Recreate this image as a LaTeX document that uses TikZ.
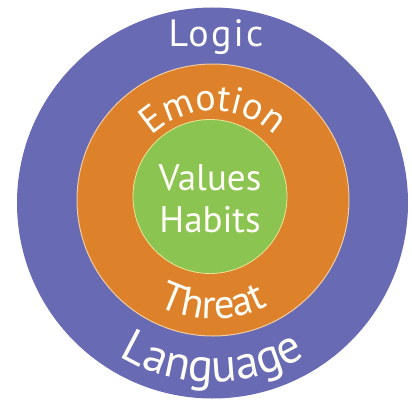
\documentclass[tikz,border=0pt]{standalone}
\usepackage{fontspec}
\setmainfont{PT Sans}
\usetikzlibrary{decorations.text,calc}
\definecolor{ringpurple}{RGB}{104,106,180}
\definecolor{ringorange}{RGB}{221,129,42}
\definecolor{ringgreen}{RGB}{139,196,80}
\definecolor{orangeedge}{RGB}{240,205,160}
\definecolor{greenedge}{RGB}{235,230,150}
\definecolor{textwhite}{RGB}{255,255,248}
\newcommand\fsEmo{\fontsize{38pt}{38pt}\selectfont}
\newcommand\fsThr{\fontsize{41pt}{41pt}\selectfont\addfontfeature{LetterSpace=10}}
\newcommand\fsLang{\fontsize{47pt}{47pt}\selectfont\addfontfeature{LetterSpace=12}}
\tikzset{
  ringlabel/.style={text=textwhite, inner sep=0pt, anchor=base},
  arctext/.style={decorate, decoration={text along path, text align=center, text color=textwhite, text={#1}}}
}
\begin{document}
\begin{tikzpicture}[x=1pt,y=1pt]
\useasboundingbox (0,0) rectangle (412,400);
\coordinate (pc) at (212.5,197);
\coordinate (oc) at (213,200);
\coordinate (gc) at (210,203.5);
\fill[ringpurple] (pc) circle[radius=195.5pt];
\filldraw[fill=ringorange, draw=orangeedge, line width=1pt] (oc) circle[radius=136pt];
\filldraw[fill=ringgreen, draw=greenedge, line width=0.8pt] (gc) circle[radius=77pt];
% inner words
\node[ringlabel, font=\fontsize{37pt}{37pt}\selectfont] (values) at (210,210) {Values};
\node[ringlabel, font=\fontsize{37pt}{37pt}\selectfont] (habits) at (210,168) {Habits};
% top word of outer ring
\node[ringlabel, font=\fontsize{38pt}{38pt}\selectfont\addfontfeature{LetterSpace=6}] (logic) at (216,353) {Logic};
% curved words
\path[arctext={|\fsEmo|Emotion}] ($(oc)+(170:89pt)$) arc[start angle=170, end angle=10, radius=89pt];
\path[arctext={|\fsThr|Threat}] ($(oc)+(190:119pt)$) arc[start angle=190, end angle=350, radius=119pt];
\path[arctext={|\fsLang|Language}] ($(pc)+(185:179pt)$) arc[start angle=185, end angle=355, radius=179pt];
\end{tikzpicture}
\end{document}
